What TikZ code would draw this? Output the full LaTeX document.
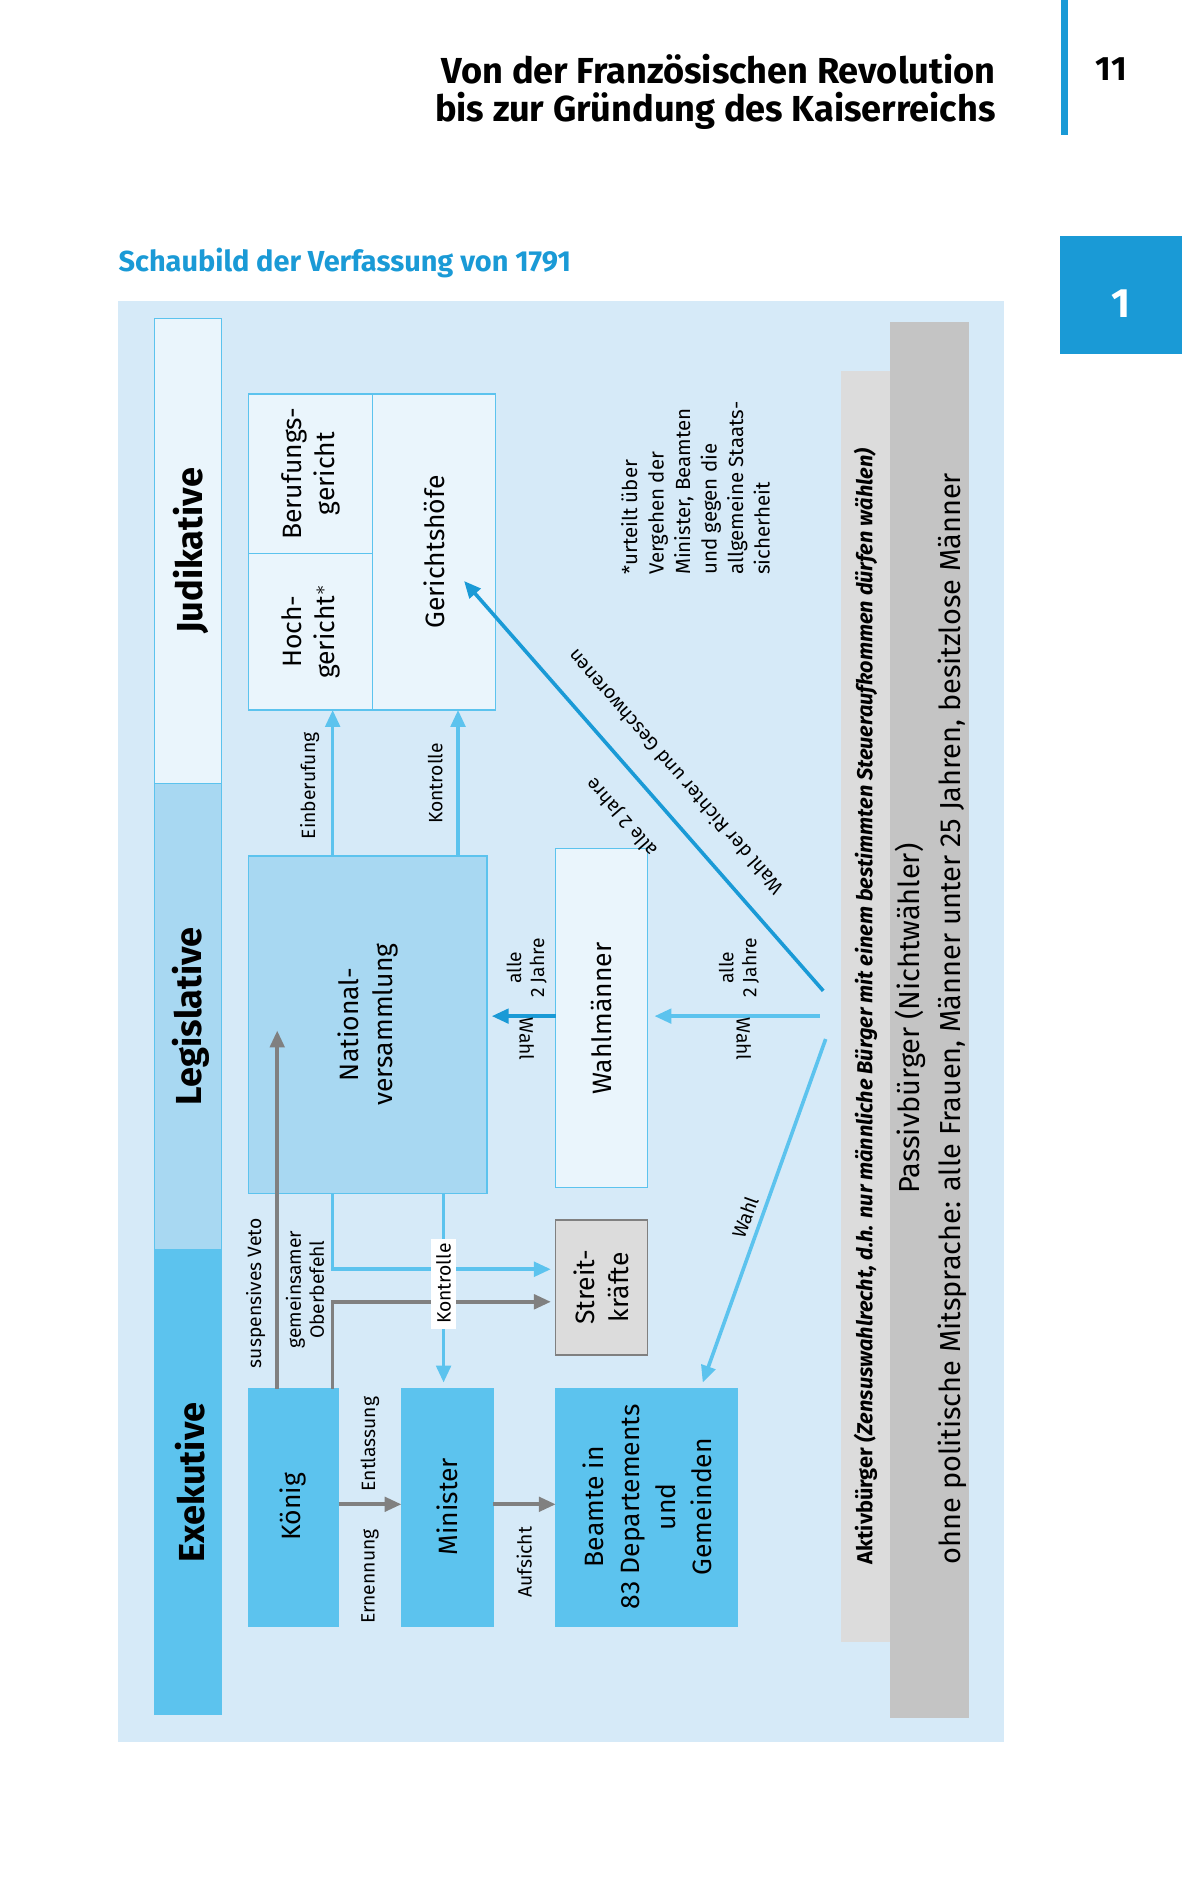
\documentclass[tikz,border=0pt]{standalone}
\usepackage{fontspec}
\setmainfont{Fira Sans}
\usetikzlibrary{arrows.meta}
\definecolor{bg}{HTML}{D6EAF8}
\definecolor{vlight}{HTML}{EAF5FC}
\definecolor{mid}{HTML}{A8D8F2}
\definecolor{strong}{HTML}{5CC3EE}
\definecolor{dark}{HTML}{1A9AD6}
\definecolor{gr}{HTML}{808080}
\definecolor{lgr}{HTML}{DCDCDC}
\definecolor{dgr}{HTML}{C4C4C4}
\begin{document}
\begin{tikzpicture}[x=0.5pt,y=-0.5pt,
  lab/.style={rotate=90,align=center,font=\fontsize{8}{9.5}\selectfont,inner sep=1pt},
  arr/.style={line width=1.5pt,-{Triangle[length=7pt,width=6pt]}},
  la/.style={arr,strong},
  da/.style={arr,dark},
  ga/.style={arr,gr}]
\useasboundingbox (0,0) rectangle (981,1568);
% header
\node[anchor=east,font=\bfseries\fontsize{15}{18}\selectfont] at (833,57) {Von der Französischen Revolution};
\node[anchor=east,font=\bfseries\fontsize{15}{18}\selectfont] at (833,92) {bis zur Gründung des Kaiserreichs};
\fill[dark] (880,0) rectangle (886,112);
\node[font=\bfseries\fontsize{14}{16}\selectfont] at (922,57) {11};
\fill[dark] (879,196) rectangle (981,294);
\node[text=white,font=\bfseries\fontsize{17}{20}\selectfont] at (930,252) {1};
\node[anchor=west,text=dark,font=\bfseries\fontsize{12}{14}\selectfont,inner sep=0] at (98,218) {Schaubild der Verfassung von 1791};
% background
\fill[bg] (98,250) rectangle (833,1445);
% column
\filldraw[draw=strong,fill=vlight,line width=0.5pt] (128,264) rectangle (184,650);
\filldraw[draw=strong,fill=mid,line width=0.5pt] (128,650) rectangle (184,1037);
\filldraw[draw=strong,fill=strong,line width=0.5pt] (128,1037) rectangle (184,1422);
\node[rotate=90,font=\bfseries\fontsize{15}{18}\selectfont] at (158,457) {Judikative};
\node[rotate=90,font=\bfseries\fontsize{15}{18}\selectfont] at (158,843) {Legislative};
\node[rotate=90,font=\bfseries\fontsize{15}{18}\selectfont] at (158,1230) {Exekutive};
% citizens strips
\fill[lgr] (698,308) rectangle (738,1362);
\fill[dgr] (738,267) rectangle (804,1425);
\node[rotate=90,font=\fontsize{9}{10}\selectfont] (akt) at (718,835) {\textbf{Aktivbürger} \textbf{\itshape(Zensuswahlrecht, d.h. nur männliche Bürger mit einem bestimmten Steueraufkommen dürfen wählen)}};
\node[rotate=90,align=center,font=\fontsize{12}{17}\selectfont] (pas) at (772,845) {Passivbürger (Nichtwähler)\\ohne politische Mitsprache: alle Frauen, Männer unter 25 Jahren, besitzlose Männer};
% judikative boxes
\filldraw[draw=strong,fill=vlight,line width=0.6pt] (206,327) rectangle (411,589);
\draw[strong,line width=0.6pt] (309,327) -- (309,589) (206,459) -- (309,459);
\node[rotate=90,align=center,font=\fontsize{11}{14}\selectfont] (ber) at (258,393) {Berufungs-\\gericht};
\node[rotate=90,align=center,font=\fontsize{11}{14}\selectfont] (hoch) at (258,524) {Hoch-\\gericht$^{*}$};
\node[rotate=90,font=\fontsize{11}{14}\selectfont] (ger) at (360,458) {Gerichtshöfe};
\coordinate (hochB) at (276,589);
\coordinate (gerB) at (380,589);
\coordinate (gerT) at (385,482);
\node[lab,font=\fontsize{8.5}{11}\selectfont,align=left] (fn) at (577,405) {*urteilt über\\Vergehen der\\Minister, Beamten\\und gegen die\\allgemeine Staats-\\sicherheit};
% main boxes
\filldraw[draw=strong,fill=mid,line width=0.6pt] (206,710) rectangle (404,990);
\node[rotate=90,align=center,font=\fontsize{11}{14}\selectfont] (nv) at (305,850) {National-\\versammlung};
\filldraw[draw=strong,fill=vlight,line width=0.6pt] (461,704) rectangle (537,985);
\node[rotate=90,font=\fontsize{11}{14}\selectfont] (wm) at (499,845) {Wahlmänner};
\filldraw[draw=gr,fill=lgr,line width=0.6pt] (461,1012) rectangle (537,1124);
\node[rotate=90,align=center,font=\fontsize{11}{14}\selectfont] (sk) at (499,1068) {Streit-\\kräfte};
\filldraw[draw=strong,fill=strong,line width=0.6pt] (206,1152) rectangle (281,1349);
\node[rotate=90,font=\fontsize{11}{14}\selectfont] (kg) at (243,1250) {König};
\filldraw[draw=strong,fill=strong,line width=0.6pt] (333,1152) rectangle (409,1349);
\node[rotate=90,font=\fontsize{11}{14}\selectfont] (mi) at (371,1250) {Minister};
\filldraw[draw=strong,fill=strong,line width=0.6pt] (461,1152) rectangle (612,1349);
\node[rotate=90,align=center,font=\fontsize{11}{15}\selectfont] (be) at (537,1250) {Beamte in\\83 Departements\\und\\Gemeinden};
% arrows judikative
\draw[la] (276,710) -- (hochB);
\draw[la] (380,710) -- (gerB);
\node[lab] at (257,652) {Einberufung};
\node[lab] at (361,650) {Kontrolle};
\coordinate (aktW) at (683,822);
\draw[da] (aktW) -- (gerT);
\node[rotate=131,font=\fontsize{8}{10}\selectfont,inner sep=0] at (560,641) {Wahl der Richter und Geschworenen};
\node[rotate=131,font=\fontsize{8}{10}\selectfont,inner sep=0] at (516,678) {alle 2 Jahre};
% wahl arrows
\coordinate (aktM) at (680,843);
\draw[la] (aktM) -- (543,843);
\node[lab] at (613,803) {alle\\2 Jahre};
\node[rotate=-90,font=\fontsize{8}{10}\selectfont] at (617,862) {Wahl};
\draw[da] (461,843) -- (408,843);
\node[lab] at (437,803) {alle\\2 Jahre};
\node[rotate=-90,font=\fontsize{8}{10}\selectfont] at (437,862) {Wahl};
\coordinate (aktB) at (685,862);
\draw[la] (aktB) -- (583,1147);
\node[rotate=70,font=\fontsize{8}{10}\selectfont] at (618,1010) {Wahl};
% exekutive arrows
\draw[la] (276,990) -- (276,1053) -- (457,1053);
\draw[ga] (276,1152) -- (276,1080) -- (457,1080);
\draw[la] (368,990) -- (368,1147);
\node[lab,fill=white,inner sep=2pt] at (368,1065) {Kontrolle};
\draw[ga] (230,1152) -- (230,855);
\node[lab] at (212,1073) {suspensives Veto};
\node[lab] at (253,1070) {gemeinsamer\\Oberbefehl};
\draw[ga] (281,1248) -- (333,1248);
\node[lab] at (307,1308) {Ernennung};
\node[lab] at (307,1198) {Entlassung};
\draw[ga] (409,1248) -- (461,1248);
\node[lab] at (435,1296) {Aufsicht};
\end{tikzpicture}
\end{document}
